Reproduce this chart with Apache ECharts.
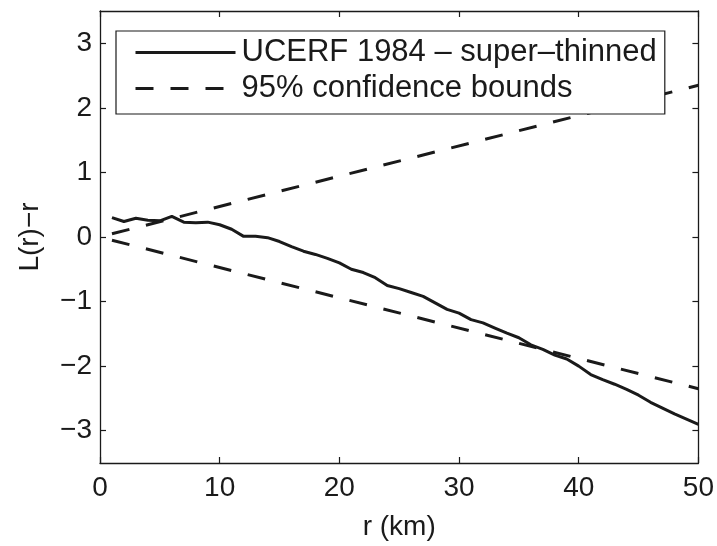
<!DOCTYPE html>
<html>
<head>
<meta charset="utf-8">
<script src="https://cdn.jsdelivr.net/npm/echarts@6/dist/echarts.min.js"></script>
<style>
  html, body { margin: 0; padding: 0; background: #fff; }
  #chart { width: 717px; height: 546px; }
</style>
</head>
<body>
<div id="chart"></div>
<script>
// Distance r (km) and the L(r)-r statistic of the super-thinned catalogue
const radius = [1,2,3,4,5,6,7,8,9,10,11,12,13,14,15,16,17,18,19,20,21,22,23,24,25,
                26,27,28,29,30,31,32,33,34,35,36,37,38,39,40,41,42,43,44,45,46,47,48,49,50];
const ucerfValues = [0.30,0.24,0.29,0.26,0.25,0.32,0.23,0.22,0.23,0.19,0.12,0.01,0.01,-0.01,-0.07,
                     -0.15,-0.22,-0.27,-0.33,-0.40,-0.50,-0.55,-0.63,-0.75,-0.80,-0.86,-0.92,-1.02,-1.12,-1.18,
                     -1.28,-1.33,-1.41,-1.49,-1.56,-1.67,-1.74,-1.83,-1.89,-2.00,-2.13,-2.21,-2.28,-2.36,-2.45,
                     -2.56,-2.65,-2.74,-2.82,-2.90];
// 95% confidence envelope (straight lines)
const boundRadius = [1, 50];
const upperBound = [0.05, 2.35];
const lowerBound = [-0.05, -2.35];
const xTicks = [0, 10, 20, 30, 40, 50];
const yTicks = [-3, -2, -1, 0, 1, 2, 3];

const seriesNames = ['UCERF 1984 \u2013 super\u2013thinned', '95% confidence bounds'];

const FONT = 'Liberation Sans, Arial, Helvetica, sans-serif';
const INK = '#1a1a1a';
const textStyle = { fontFamily: FONT, fontSize: 28, color: INK };

const pairs = (xs, ys) => xs.map((x, i) => [x, ys[i]]);

const axisLine = { show: true, onZero: false, lineStyle: { color: INK, width: 1.3 } };
const tickStyle = { color: INK, width: 1.2 };

const chart = echarts.init(document.getElementById('chart'), null, { renderer: 'canvas' });
chart.setOption({
  backgroundColor: '#ffffff',
  animation: false,
  grid: { left: 100, right: 18, top: 11, bottom: 78, containLabel: false },
  legend: {
    orient: 'vertical',
    left: 116,
    top: 31,
    padding: [6, 8, 10, 18],
    itemGap: 5,
    itemWidth: 100,
    itemHeight: 14,
    borderColor: INK,
    borderWidth: 1.2,
    backgroundColor: '#fff',
    itemStyle: { opacity: 0 },
    lineStyle: { width: 3 },
    textStyle: { fontFamily: FONT, fontSize: 31, color: INK, padding: [0, 0, 0, 1] },
    data: seriesNames
  },
  xAxis: [
    {
      type: 'value', min: 0, max: 50, interval: 10, position: 'bottom',
      name: 'r (km)', nameLocation: 'middle', nameGap: 50,
      nameTextStyle: textStyle,
      axisLine: axisLine,
      axisTick: { show: true, inside: true, length: 6, lineStyle: tickStyle },
      splitLine: { show: false },
      axisLabel: Object.assign({ margin: 11, customValues: xTicks }, textStyle)
    },
    {
      type: 'value', min: 0, max: 50, interval: 10, position: 'top',
      axisLine: axisLine,
      axisTick: { show: true, inside: true, length: 6, lineStyle: tickStyle },
      splitLine: { show: false },
      axisLabel: { show: false }
    }
  ],
  yAxis: [
    {
      type: 'value', min: -3.5, max: 3.5, position: 'left',
      name: 'L(r)\u2212r', nameLocation: 'middle', nameGap: 56, nameRotate: 90,
      nameTextStyle: textStyle,
      axisLine: axisLine,
      splitLine: { show: false },
      axisLabel: Object.assign({ margin: 8, customValues: yTicks,
        formatter: v => (v < 0 ? '\u2212' + Math.abs(v) : String(v)) }, textStyle),
      axisTick: { show: true, inside: true, length: 6, customValues: yTicks, lineStyle: tickStyle }
    },
    {
      type: 'value', min: -3.5, max: 3.5, position: 'right',
      axisLine: axisLine,
      splitLine: { show: false },
      axisLabel: { show: false },
      axisTick: { show: true, inside: true, length: 6, customValues: yTicks, lineStyle: tickStyle }
    }
  ],
  series: [
    {
      name: seriesNames[0], type: 'line', xAxisIndex: 0, yAxisIndex: 0,
      data: pairs(radius, ucerfValues), symbol: 'none', showSymbol: false,
      lineStyle: { color: INK, width: 3 }, itemStyle: { color: INK }, z: 3
    },
    {
      name: seriesNames[1], type: 'line', xAxisIndex: 0, yAxisIndex: 0,
      data: pairs(boundRadius, upperBound), symbol: 'none', showSymbol: false,
      lineStyle: { color: INK, width: 3, type: [18, 17] }, itemStyle: { color: INK }, z: 2
    },
    {
      name: seriesNames[1], type: 'line', xAxisIndex: 0, yAxisIndex: 0,
      data: pairs(boundRadius, lowerBound), symbol: 'none', showSymbol: false,
      lineStyle: { color: INK, width: 3, type: [18, 17] }, itemStyle: { color: INK }, z: 2
    }
  ]
});
</script>
</body>
</html>
